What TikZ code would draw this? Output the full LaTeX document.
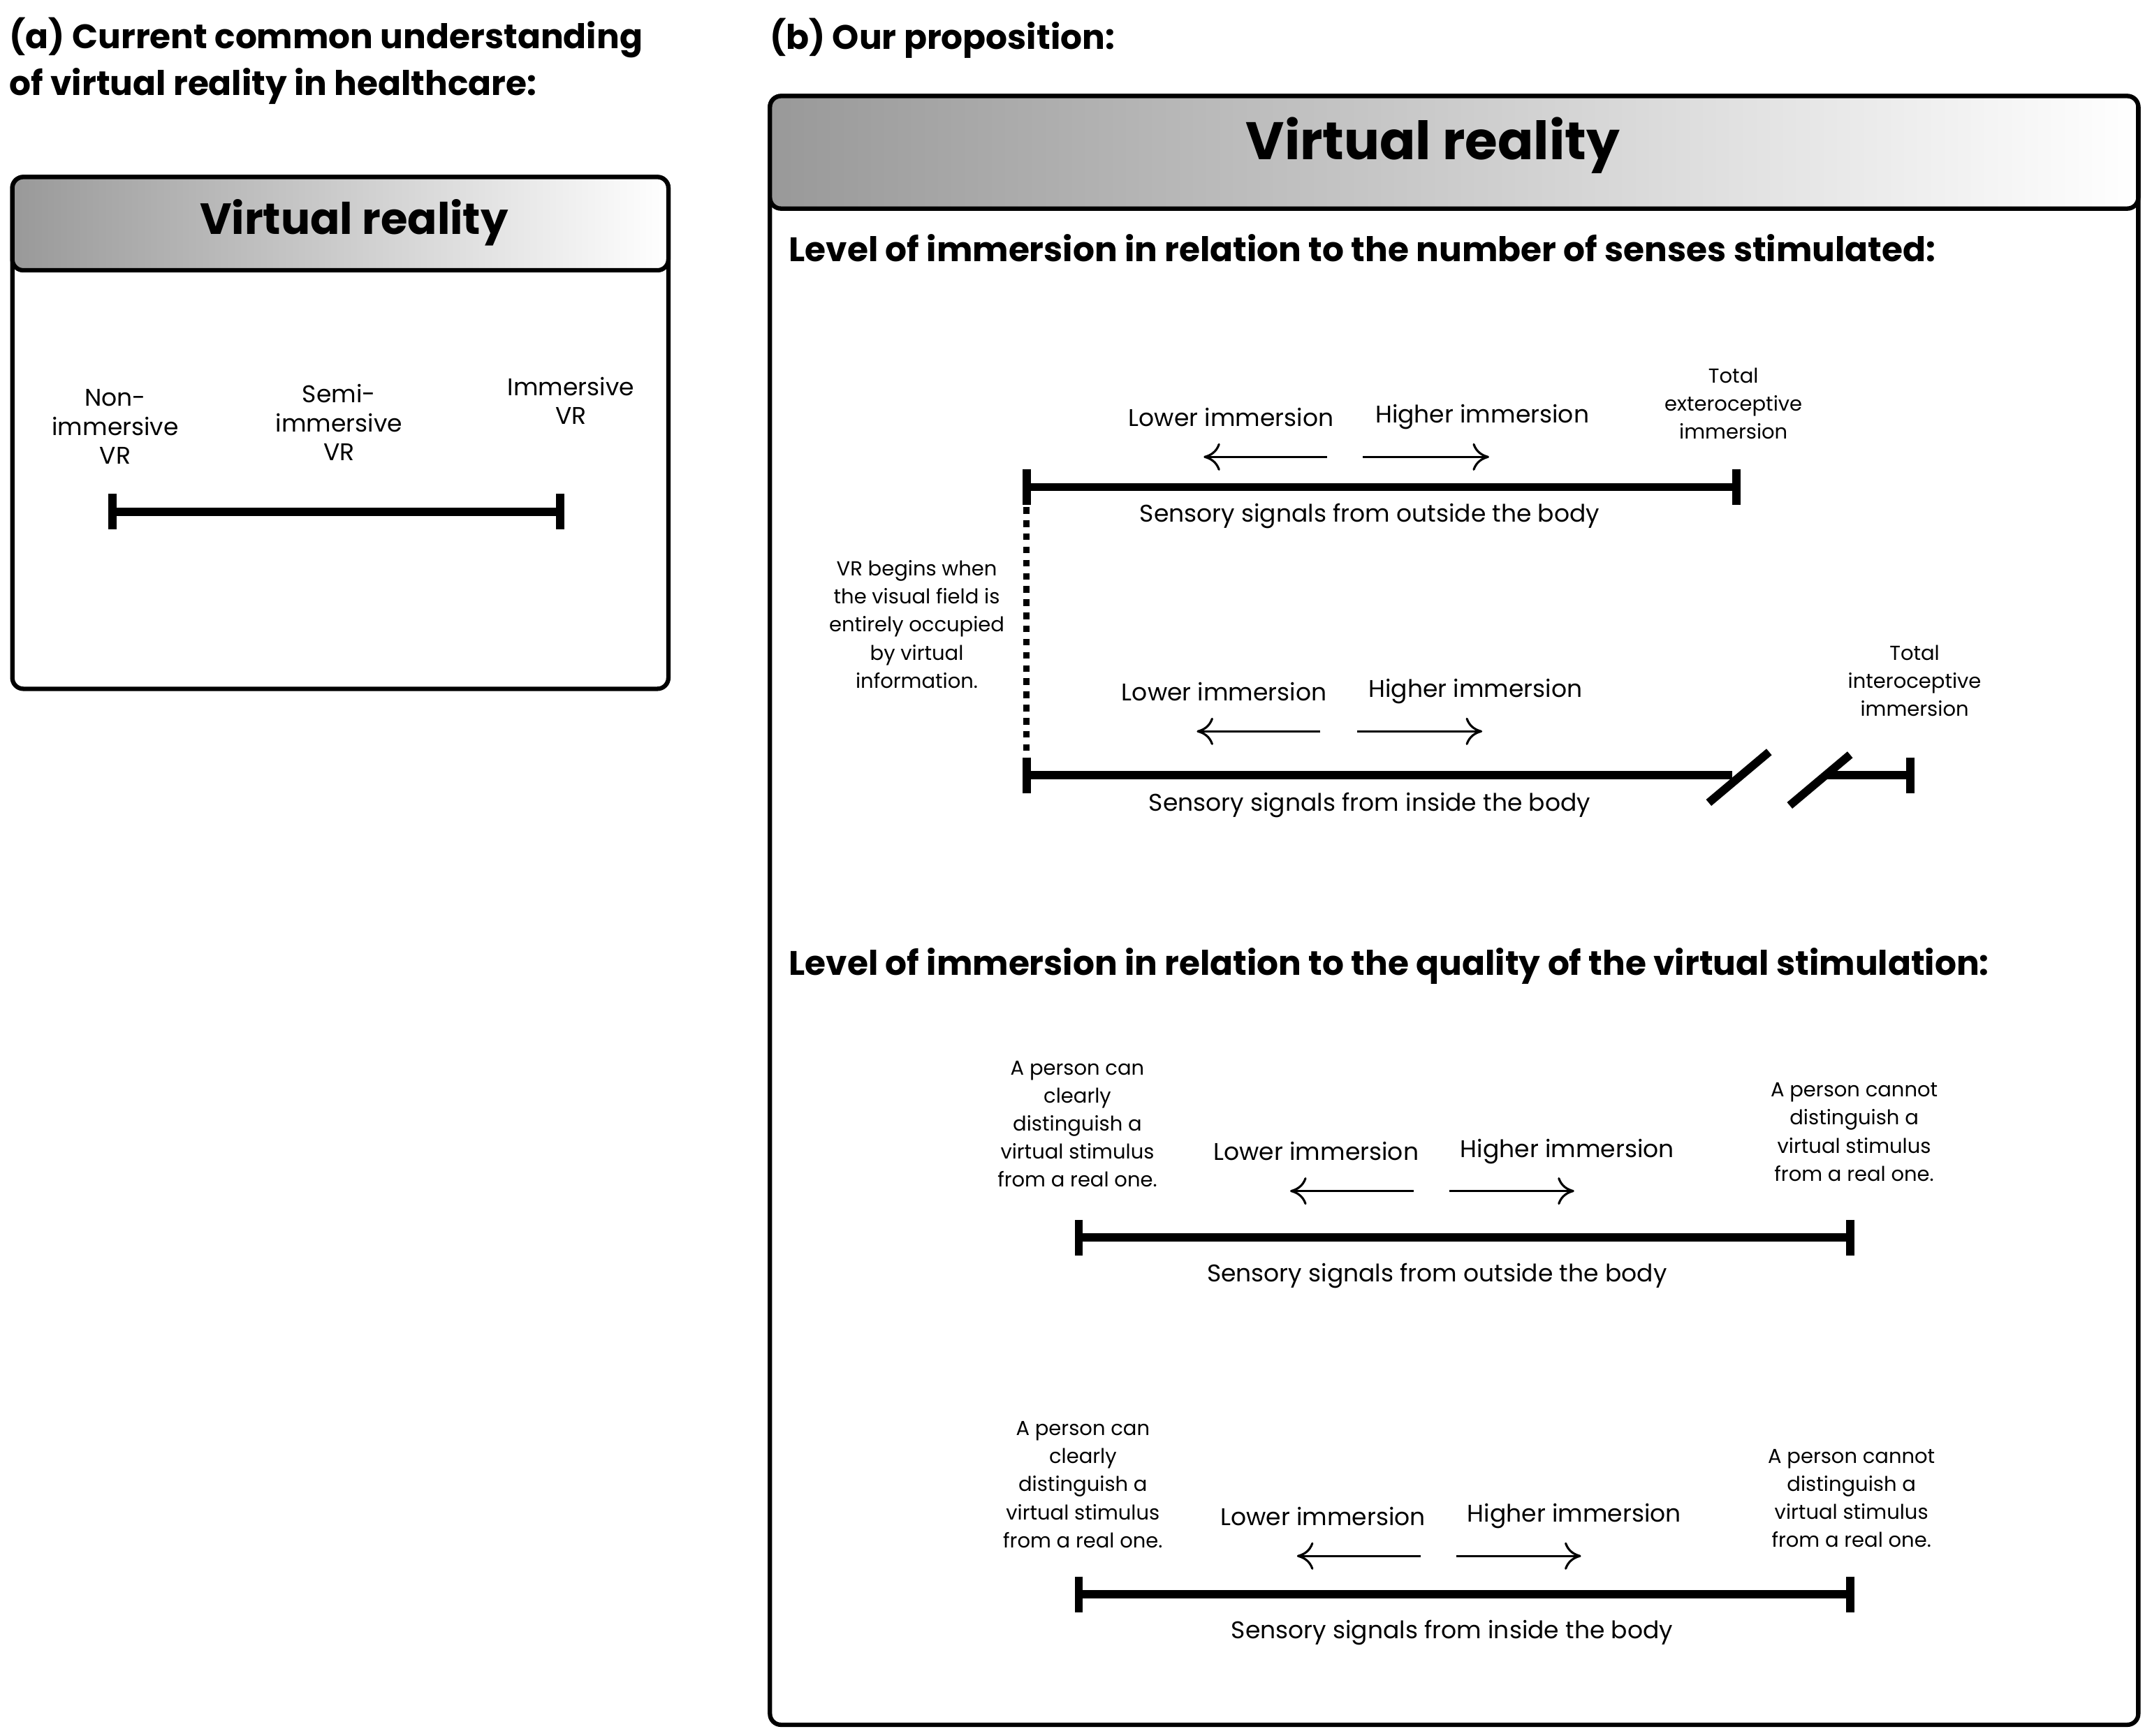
\documentclass[tikz,border=0pt]{standalone}
\usepackage{fontspec}
\setmainfont{Poppins}
\usetikzlibrary{arrows.meta}
\begin{document}
\begin{tikzpicture}[x=0.25mm,y=-0.25mm,
 box/.style={line width=0.8mm,rounded corners=2mm},
 bar/.style={line width=1.5mm},
 arr/.style={line width=0.4mm,-{To[length=3mm,width=5mm]}},
 lab/.style={font=\fontsize{12.5}{15}\selectfont,align=center},
 sm/.style={font=\fontsize{10.5}{14.5}\selectfont,align=center},
 head/.style={font=\fontsize{17.6}{24}\selectfont\bfseries,align=left,anchor=west},
 ttl/.style={font=\bfseries}]
\useasboundingbox (0,0) rectangle (1568,1265);
% left
\node[head,anchor=north west] (ha) at (2,8) {(a) Current common understanding\\of virtual reality in healthcare:};
\draw[box] (9,129) rectangle (487,502);
\shade[left color=black!40,right color=white,rounded corners=2mm] (9,129) rectangle (487,197);
\draw[box] (9,129) rectangle (487,197);
\node[ttl,font=\fontsize{22.6}{28}\selectfont\bfseries] (ta) at (258,162) {Virtual reality};
\coordinate (l1) at (82,373); \coordinate (l2) at (408,373);
\draw[bar] (l1) -- (l2);
\draw[bar] (82,360) -- (82,386); \draw[bar] (408,360) -- (408,386);
\node[lab] (n1) at (84,311) {Non-\\immersive\\VR};
\node[lab] (n2) at (247,308) {Semi-\\immersive\\VR};
\node[lab] (n3) at (416,292) {Immersive\\VR};
% right
\node[head] (hb) at (556,28) {(b) Our proposition:};
\draw[box] (561,70) rectangle (1558,1257);
\shade[left color=black!40,right color=white,rounded corners=2mm] (561,70) rectangle (1558,152);
\draw[box] (561,70) rectangle (1558,152);
\node[font=\fontsize{27.4}{32}\selectfont\bfseries] (tb) at (1044,106) {Virtual reality};
\node[head] (s1) at (570,181) {Level of immersion in relation to the number of senses stimulated:};
\node[head] (s2) at (570,704) {Level of immersion in relation to the quality of the virtual stimulation:};
% line 1
\draw[bar] (748,355) -- (1265,355);
\draw[bar] (748,342) -- (748,368); \draw[bar] (1265,342) -- (1265,368);
\draw[arr] (967,333) -- (877,333); \draw[arr] (993,333) -- (1085,333);
\node[lab] at (897,304) {Lower immersion};
\node[lab] at (1080,304) {Higher immersion};
\node[sm] at (1263,294) {Total\\exteroceptive\\immersion};
\node[lab] at (998,376) {Sensory signals from outside the body};
\draw[line width=1.2mm,dash pattern=on 1.2mm off 1.2mm] (748,360) -- (748,560);
\node[sm] at (668,455) {VR begins when\\the visual field is\\entirely occupied\\by virtual\\information.};
% line 2
\draw[bar] (748,565) -- (1262,565);
\draw[bar] (1330,565) -- (1392,565);
\draw[bar] (748,552) -- (748,578); \draw[bar] (1392,552) -- (1392,578);
\draw[bar] (1245,585) -- (1289,548); \draw[bar] (1304,587) -- (1348,550);
\draw[arr] (962,533) -- (872,533); \draw[arr] (989,533) -- (1080,533);
\node[lab] at (892,504) {Lower immersion};
\node[lab] at (1075,504) {Higher immersion};
\node[sm] at (1395,496) {Total\\interoceptive\\immersion};
\node[lab] at (998,587) {Sensory signals from inside the body};
% line 3
\draw[bar] (786,902) -- (1348,902);
\draw[bar] (786,889) -- (786,915); \draw[bar] (1348,889) -- (1348,915);
\draw[arr] (1030,868) -- (940,868); \draw[arr] (1056,868) -- (1147,868);
\node[lab] at (959,839) {Lower immersion};
\node[lab] at (1142,839) {Higher immersion};
\node[sm] at (785,819) {A person can\\clearly\\distinguish a\\virtual stimulus\\from a real one.};
\node[sm] at (1351,825) {A person cannot\\distinguish a\\virtual stimulus\\from a real one.};
\node[lab] at (1047,930) {Sensory signals from outside the body};
% line 4
\draw[bar] (786,1162) -- (1348,1162);
\draw[bar] (786,1149) -- (786,1175); \draw[bar] (1348,1149) -- (1348,1175);
\draw[arr] (1035,1134) -- (945,1134); \draw[arr] (1061,1134) -- (1152,1134);
\node[lab] at (964,1105) {Lower immersion};
\node[lab] at (1147,1105) {Higher immersion};
\node[sm] at (789,1082) {A person can\\clearly\\distinguish a\\virtual stimulus\\from a real one.};
\node[sm] at (1349,1092) {A person cannot\\distinguish a\\virtual stimulus\\from a real one.};
\node[lab] at (1058,1190) {Sensory signals from inside the body};
\end{tikzpicture}
\end{document}
